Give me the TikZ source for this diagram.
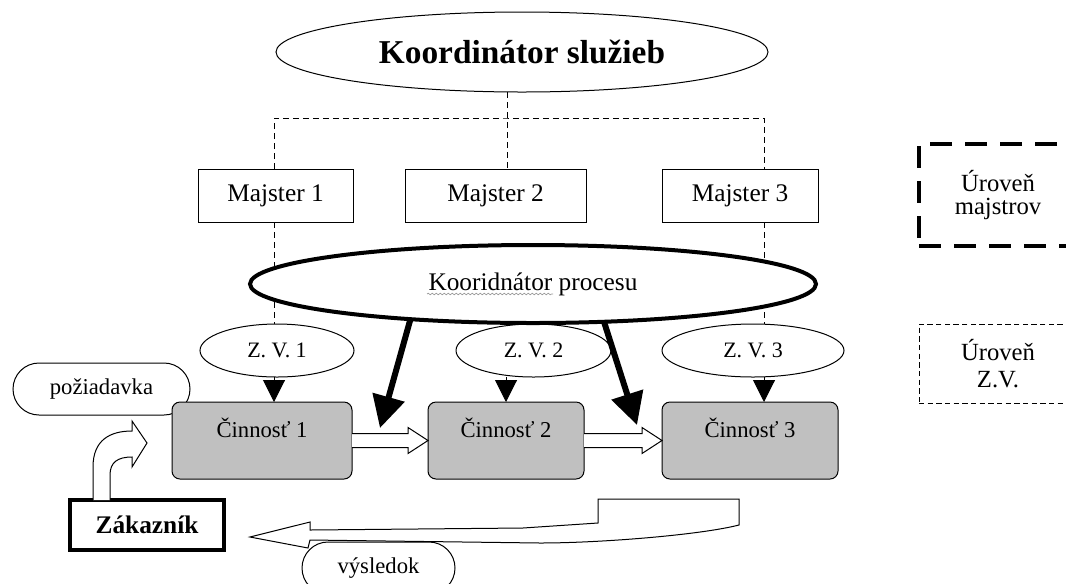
\documentclass[tikz,border=0pt]{standalone}
\usepackage{fontspec}
\setmainfont{Liberation Serif}
\usetikzlibrary{arrows.meta,shapes.geometric,shapes.misc,calc,decorations.pathmorphing}
\definecolor{actgray}{HTML}{C0C0C0}
\begin{document}
\begin{tikzpicture}[x=0.75pt,y=-0.75pt,
  every node/.style={inner sep=0pt,outer sep=0pt},
  oval/.style={draw,ellipse,line width=0.75pt,fill=white},
  mbox/.style={draw,rectangle,line width=0.75pt,fill=white,minimum height=39.75pt,font=\fontsize{19pt}{22pt}\selectfont},
  zvoval/.style={oval,minimum height=39.75pt,font=\fontsize{16.5pt}{19pt}\selectfont},
  actbox/.style={draw,rectangle,rounded corners=6pt,line width=0.75pt,fill=actgray,minimum height=57.75pt,text height=13.5pt,text depth=18.75pt,font=\fontsize{17pt}{20pt}\selectfont},
  pill/.style={draw,rounded rectangle,line width=0.75pt,fill=white,minimum height=39pt,font=\fontsize{17pt}{20pt}\selectfont},
  dashconn/.style={line width=0.75pt,dash pattern=on 4.5pt off 3pt},
  bigarrow/.style={line width=4.5pt,-{Triangle[length=24pt,width=24pt]}},
  zvarrow/.style={line width=0.75pt,-{Triangle[length=16.5pt,width=16.5pt]}},
  hollow/.style={draw,fill=white,line width=0.75pt,line join=miter},
  levelbox/.style={draw,rectangle,align=center,font=\fontsize{18.5pt}{17.5pt}\selectfont}]
\useasboundingbox (0,0) rectangle (1066,583);
\clip (0,0) rectangle (1066,583);
\fill[white] (0,0) rectangle (1066,583);

% top level
\node[oval,minimum width=369pt,minimum height=60pt,font=\fontsize{25pt}{30pt}\selectfont\bfseries] (ks) at (522,52) {Koordinátor služieb};
\node[mbox,minimum width=116.25pt] (m1) at (275.5,195.5) {Majster 1};
\node[mbox,minimum width=135.75pt] (m2) at (495.5,195.5) {Majster 2};
\node[mbox,minimum width=117pt] (m3) at (740,195.5) {Majster 3};

\node[zvoval,minimum width=115.5pt] (zv1) at (277,350.5) {Z. V. 1};
\node[zvoval,minimum width=116.25pt] (zv2) at (533.5,350.5) {Z. V. 2};
\node[zvoval,minimum width=136.5pt] (zv3) at (753,350.5) {Z. V. 3};

\coordinate (d1) at (274,118);
\coordinate (d2) at (507,118);
\coordinate (d3) at (764,118);

% dashed tree
\draw[dashconn] (ks.south -| d2) -- (m2.north -| d2);
\draw[dashconn] (m1.north -| d1) |- (d2) -| (m3.north -| d3);
\draw[dashconn] (m1.south -| d1) -- (zv1.north -| d1);
\draw[dashconn] (m3.south -| d3) -- (zv3.north -| d3);

% process coordinator
\node[draw,ellipse,line width=3pt,fill=white,minimum width=424.5pt,minimum height=58.5pt,font=\fontsize{19pt}{22pt}\selectfont] (kp) at (533,284) {Kooridnátor procesu};
\draw[gray!80,line width=0.5pt,decorate,decoration={snake,amplitude=0.6pt,segment length=3pt}] ($(kp.center)+(-106,10)$) -- ($(kp.center)+(20,10)$);

% request pill (under activity 1)
\node[pill,minimum width=132.75pt] (poz) at (101.5,389) {požiadavka};

% activities
\node[actbox,minimum width=135pt] (c1) at (262,440.5) {Činnosť 1};
\node[actbox,minimum width=117pt] (c2) at (506,440.5) {Činnosť 2};
\node[actbox,minimum width=132pt] (c3) at (750,440.5) {Činnosť 3};

% Z.V. arrows
\draw[zvarrow] (zv1.south -| d1) -- (c1.north -| d1);
\draw[zvarrow] (zv2.south -| c2.north) -- (c2.north);
\draw[zvarrow] (zv3.south -| d3) -- (c3.north -| d3);

% big arrows from process coordinator
\coordinate (t1) at (380,428);
\coordinate (t2) at (637,425);
\draw[bigarrow] (kp.196) -- (t1);
\draw[bigarrow] (kp.332) -- (t2);

% hollow arrows between activities
\draw[hollow] ($(c1.east)+(0,-7)$) -- ($(c2.west)+(-20,-7)$) -- ($(c2.west)+(-20,-13)$) -- (c2.west) -- ($(c2.west)+(-20,13)$) -- ($(c2.west)+(-20,7)$) -- ($(c1.east)+(0,7)$);
\draw[hollow] ($(c2.east)+(0,-7)$) -- ($(c3.west)+(-20,-7)$) -- ($(c3.west)+(-20,-13)$) -- (c3.west) -- ($(c3.west)+(-20,13)$) -- ($(c3.west)+(-20,7)$) -- ($(c2.east)+(0,7)$);

% customer
\node[draw,rectangle,line width=3pt,fill=white,minimum width=115.5pt,minimum height=37.5pt,font=\fontsize{19pt}{22pt}\selectfont\bfseries] (zk) at (147,525) {Zákazník};
\coordinate (za) at (zk.north west);
\draw[hollow] ($(za)+(23,0)$) -- ($(za)+(23,-33)$) .. controls ($(za)+(23,-60)$) and ($(za)+(40,-69)$) .. ($(za)+(62,-69)$) -- ($(za)+(62,-79)$) -- ($(za)+(77,-57)$) -- ($(za)+(62,-33)$) -- ($(za)+(62,-43)$) .. controls ($(za)+(48,-43)$) and ($(za)+(40,-38)$) .. ($(za)+(40,-25)$) -- ($(za)+(40,0)$);

% result arrow
\draw[hollow] (250,537) -- (310,522) -- (310,530) -- (523,528) -- (598,523) -- (598,499) -- (739,499) -- (739,525) .. controls (700,535) and (600,543) .. (540,543) -- (310,540) -- (308,548) -- cycle;
\node[pill,minimum width=114.75pt] (vys) at (378.5,568) {výsledok};

% level legend
\node[levelbox,line width=3pt,dash pattern=on 16.5pt off 9.75pt,minimum width=118.5pt,minimum height=76.5pt] (um) at (998,195) {Úroveň\\majstrov};
\node[levelbox,line width=0.75pt,dash pattern=on 4pt off 2.5pt,minimum width=118.5pt,minimum height=59.25pt,font=\fontsize{18.5pt}{20pt}\selectfont] (uz) at (998,363.5) {Úroveň\\Z.V.};
\end{tikzpicture}
\end{document}
